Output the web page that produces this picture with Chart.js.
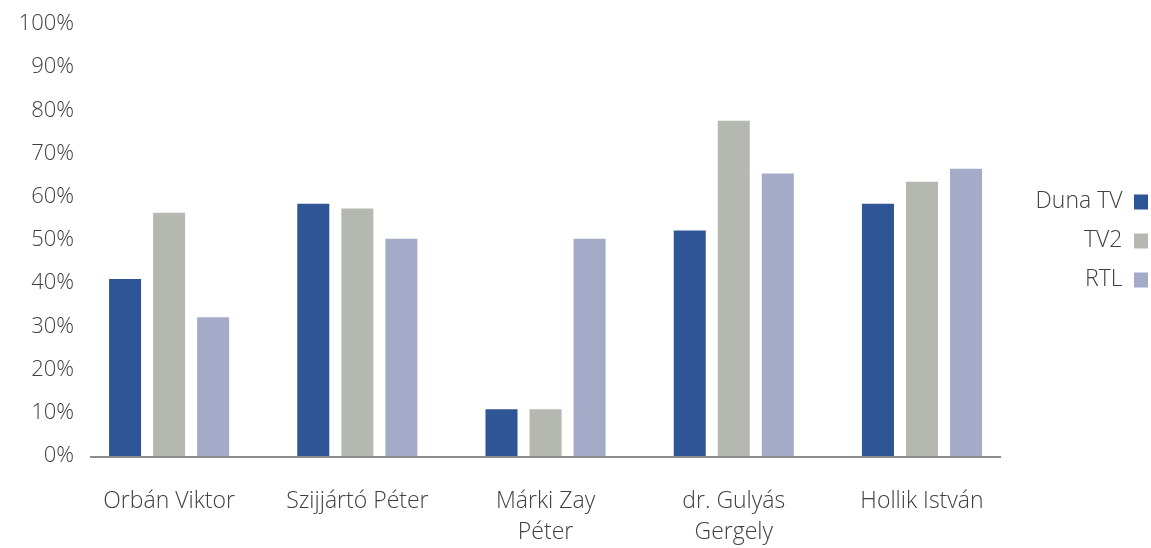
<!DOCTYPE html>
<html>
<head>
<meta charset="utf-8">
<script src="https://cdn.jsdelivr.net/npm/chart.js@4.4.0/dist/chart.umd.min.js"></script>
<style>
  html, body { margin: 0; padding: 0; background: #fff; }
  #wrap { width: 1151px; height: 548px; }
</style>
</head>
<body>
<div id="wrap"><canvas id="media"></canvas></div>
<script>
const candidates = ['Orbán Viktor', 'Szijjártó Péter', ['Márki Zay', 'Péter'], ['dr. Gulyás', 'Gergely'], 'Hollik István'];
const dunaTV = [41, 58.4, 10.8, 52.2, 58.4];
const tv2 = [56.3, 57.3, 10.8, 77.6, 63.5];
const rtl = [32.1, 50.3, 50.3, 65.4, 66.5];
const yTicks = [0, 10, 20, 30, 40, 50, 60, 70, 80, 90, 100];

const textColor = '#404040';
Chart.defaults.font.family = '"Open Sans", "Noto Sans", sans-serif';
Chart.defaults.font.weight = 300;

// axis line, a bit shorter than the plot area like the original
const baseLine = {
    id: 'baseLine',
    afterDatasetsDraw(chart) {
        const {ctx, chartArea} = chart;
        ctx.save();
        ctx.strokeStyle = '#8c8c8c';
        ctx.lineWidth = 2;
        ctx.beginPath();
        ctx.moveTo(chartArea.left + 15, chartArea.bottom + 1);
        ctx.lineTo(chartArea.right - 15, chartArea.bottom + 1);
        ctx.stroke();
        ctx.restore();
    }
};

new Chart(document.getElementById('media'), {
    type: 'bar',
    data: {
        labels: candidates,
        datasets: [
            { label: 'Duna TV', data: dunaTV, backgroundColor: '#2e5596' },
            { label: 'TV2', data: tv2, backgroundColor: '#b5b8b0' },
            { label: 'RTL', data: rtl, backgroundColor: '#a4abc8' }
        ]
    },
    options: {
        responsive: true,
        maintainAspectRatio: false,
        animation: false,
        categoryPercentage: 0.702,
        barPercentage: 0.727,
        layout: { padding: { top: 24, right: -13, bottom: 0, left: 0 } },
        scales: {
            x: {
                afterFit: (scale) => { scale.height = 92; },
                grid: { display: false, drawTicks: false },
                border: { display: false },
                ticks: { color: textColor, font: { size: 23, lineHeight: 1.35 }, padding: 30, maxRotation: 0, autoSkip: false }
            },
            y: {
                min: 0,
                max: 100,
                afterBuildTicks: (scale) => { scale.ticks = yTicks.map(v => ({ value: v })); },
                afterFit: (scale) => { scale.width = 75; },
                grid: { display: false, drawTicks: false },
                border: { display: false },
                ticks: { color: textColor, font: { size: 22 }, padding: 1, callback: (v) => v + '%' }
            },
            // empty spacer between plot and legend
            gap: {
                position: 'right',
                afterFit: (scale) => { scale.width = 9.5; },
                grid: { display: false, drawTicks: false },
                border: { display: false },
                ticks: { display: false }
            }
        },
        plugins: {
            legend: {
                position: 'right',
                align: 'start',
                rtl: true,
                title: { display: true, text: ' ', font: { size: 12, lineHeight: 1.2 }, padding: { top: 136, bottom: 0 } },
                labels: { color: textColor, font: { size: 23 }, boxWidth: 14, boxHeight: 15, padding: 16 }
            },
            tooltip: { enabled: false }
        }
    },
    plugins: [baseLine]
});
</script>
</body>
</html>
